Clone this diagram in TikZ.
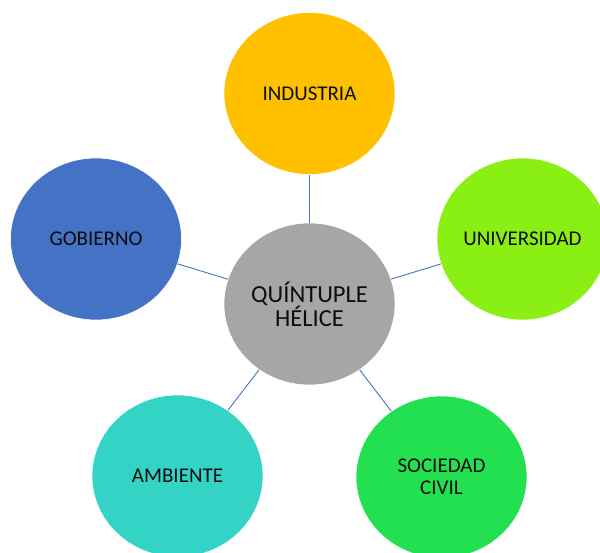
\documentclass[tikz,border=0pt]{standalone}
\usepackage{fontspec}
\setmainfont{Carlito}
\usetikzlibrary{shapes.geometric}
\definecolor{cindustria}{HTML}{FFC000}
\definecolor{cuniversidad}{HTML}{8AF014}
\definecolor{cgobierno}{HTML}{4472C4}
\definecolor{cambiente}{HTML}{33D3C5}
\definecolor{csociedad}{HTML}{22E04F}
\definecolor{ccentro}{HTML}{A6A6A6}
\definecolor{clink}{HTML}{4472C4}
\definecolor{ctext}{HTML}{0D0D0D}
\begin{document}
\begin{tikzpicture}[x=1pt,y=-1pt,
  helix/.style={ellipse, minimum width=171pt, minimum height=162pt, inner sep=0pt,
    draw=white, line width=0.6pt, align=center, text=ctext,
    font=\fontsize{21}{22}\selectfont},
  hub/.style={helix, font=\fontsize{24.5}{24}\selectfont},
  link/.style={draw=clink, line width=0.9pt}]
\useasboundingbox (0,0) rectangle (600,552);
\node[hub, fill=ccentro] (c) at (309.5,304) {QUÍNTUPLE\\HÉLICE};
\node[helix, fill=cindustria] (ind) at (309.5,93.5) {INDUSTRIA};
\node[helix, fill=cuniversidad] (uni) at (522.5,239) {UNIVERSIDAD};
\node[helix, fill=cgobierno] (gob) at (96,239) {GOBIERNO};
\node[helix, fill=cambiente] (amb) at (177.5,476) {AMBIENTE};
\node[helix, fill=csociedad] (soc) at (441.5,477) {SOCIEDAD\\CIVIL};
\draw[link] (c) -- (ind);
\draw[link] (c) -- (uni);
\draw[link] (c) -- (gob);
\draw[link] (c) -- (amb);
\draw[link] (c) -- (soc);
\end{tikzpicture}
\end{document}
